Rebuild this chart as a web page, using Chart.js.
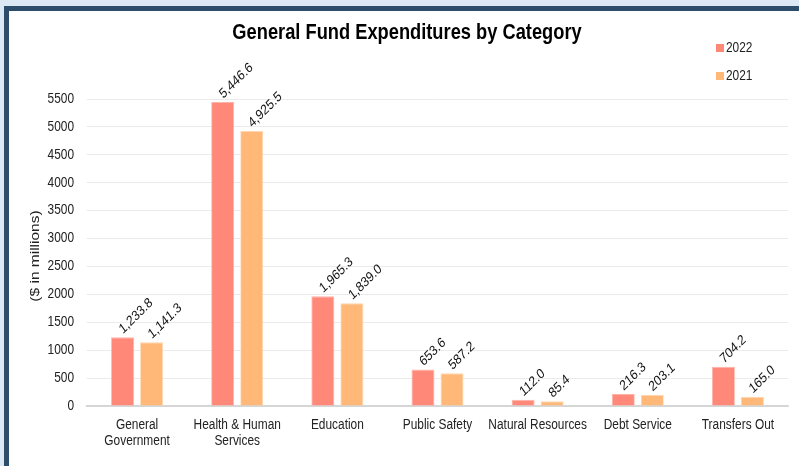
<!DOCTYPE html>
<html><head><meta charset="utf-8">
<script src="https://cdn.jsdelivr.net/npm/chart.js@4.4.1/dist/chart.umd.min.js"></script>
<style>
html,body{margin:0;padding:0;background:#fff;}
#wrap{position:relative;width:799px;height:466px;overflow:hidden;background:#dce9f5;}
#frame{position:absolute;left:4px;top:6px;width:820px;height:480px;background:#fff;border-left:5px solid #2e4d6b;border-top:5px solid #2e4d6b;}
canvas{position:absolute;left:0;top:0;}
</style></head><body>
<div id="wrap"><div id="frame"></div><canvas id="c" width="940" height="466"></canvas></div>
<script>
const chartTitle = 'General Fund Expenditures by Category';
const yAxisTitle = '($ in millions)';
const categories = [['General','Government'],['Health & Human','Services'],'Education','Public Safety','Natural Resources','Debt Service','Transfers Out'];
const seriesNames = ['2022','2021'];
const values2022 = [1233.8,5446.6,1965.3,653.6,112.0,216.3,704.2];
const values2021 = [1141.3,4925.5,1839.0,587.2,85.4,203.1,165.0];
const yTickMin = 0, yTickMax = 5500, yTickStep = 500;

// the reference text is horizontally condensed; draw in a virtual space and squeeze it
const SX = 0.85;
const v = x => x / SX;
const FONT = "'Liberation Sans',Arial,sans-serif";
const fills = ['#ff8878','#ffb877'];
const borders = ['#ffb3a8','#ffd6ae'];
const LABEL_ANGLE = Math.atan(Math.tan(45 * Math.PI / 180) * SX);

const overlay = {
  id:'overlay',
  beforeDraw(chart){
    chart.ctx.save();
    chart.ctx.scale(SX, 1);
  },
  afterDatasetsDraw(chart){
    const ctx = chart.ctx;
    ctx.save();
    ctx.fillStyle = '#111';
    ctx.font = '14px ' + FONT;
    chart.data.datasets.forEach((ds,i)=>{
      const meta = chart.getDatasetMeta(i);
      meta.data.forEach((bar,j)=>{
        const txt = ds.data[j].toLocaleString('en-US',{minimumFractionDigits:1,maximumFractionDigits:1});
        ctx.save();
        ctx.translate(bar.x + v(0.5), bar.y - 3);
        ctx.rotate(-LABEL_ANGLE);
        ctx.textAlign='left'; ctx.textBaseline='alphabetic';
        ctx.fillText(txt,0,0);
        ctx.restore();
      });
    });
    ctx.restore();
  },
  afterDraw(chart){
    const ctx = chart.ctx;
    ctx.save();
    // title
    ctx.fillStyle = '#000';
    ctx.font = 'bold 21.5px ' + FONT;
    ctx.textAlign='center'; ctx.textBaseline='middle';
    ctx.fillText(chartTitle, v(407), 33);
    // y axis title
    ctx.save();
    ctx.font = '15.5px ' + FONT;
    ctx.fillStyle = '#222';
    ctx.translate(v(35), 256);
    ctx.rotate(-Math.PI/2);
    ctx.fillText(yAxisTitle, 0, 0);
    ctx.restore();
    // legend
    ctx.font = '14px ' + FONT;
    ctx.textAlign='left';
    chart.data.datasets.forEach((ds,i)=>{
      const y = 48 + i*28;
      ctx.fillStyle = ds.backgroundColor;
      ctx.fillRect(v(716), y-4, v(8), 8);
      ctx.fillStyle = '#222';
      ctx.fillText(ds.label, v(726), y);
    });
    ctx.restore();
    chart.ctx.restore();
  }
};

new Chart(document.getElementById('c'), {
  type:'bar',
  data:{
    labels: categories,
    datasets:[
      {label:seriesNames[0], data:values2022, backgroundColor:fills[0], borderColor:borders[0], borderWidth:1},
      {label:seriesNames[1], data:values2021, backgroundColor:fills[1], borderColor:borders[1], borderWidth:1}
    ]
  },
  options:{
    responsive:false,
    animation:false,
    devicePixelRatio:1,
    categoryPercentage:0.58,
    barPercentage:0.79,
    layout:{padding:{top:99,right:940 - v(788),left:0,bottom:0}},
    plugins:{legend:{display:false},title:{display:false},tooltip:{enabled:false}},
    scales:{
      x:{
        grid:{display:false,drawTicks:false},
        border:{display:true,color:'#d6d6d6',width:2},
        ticks:{color:'#222',font:{family:FONT,size:14,lineHeight:'16px'},padding:11,maxRotation:0,autoSkip:false},
        afterFit(s){s.height=60;}
      },
      y:{
        min:yTickMin,max:yTickMax,
        grid:{color:'#e9e9e9',drawTicks:false},
        border:{display:false},
        ticks:{stepSize:yTickStep,color:'#222',font:{family:FONT,size:14},padding:v(13),callback:(val)=>String(val)},
        afterFit(s){s.width=v(87);}
      }
    }
  },
  plugins:[overlay]
});
</script>
</body></html>
